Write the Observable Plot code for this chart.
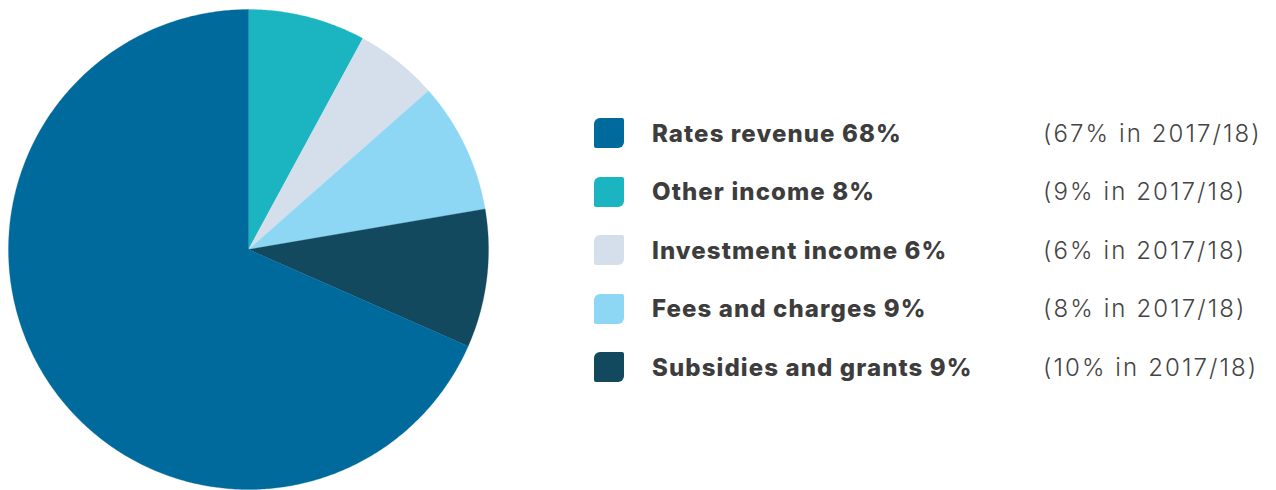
<!DOCTYPE html>
<html>
<head>
<meta charset="utf-8">
<script src="https://cdn.jsdelivr.net/npm/d3@7"></script>
<script src="https://cdn.jsdelivr.net/npm/@observablehq/plot@0.6"></script>
<style>
  html, body { margin: 0; padding: 0; background: #fff; }
  #wrap { position: relative; width: 1276px; height: 490px; display: flex; }
  #legend { position: absolute; left: 594px; top: 103.75px; font-family: "Inter", sans-serif; color: #3d3d3d; }
  .row { height: 58.5px; display: flex; align-items: center; position: relative; width: 682px; }
  .sw { width: 30px; height: 30px; border-radius: 6px 2px 6px 2px; flex: none; }
  .lab { position: absolute; left: 58px; font-weight: 800; font-size: 24px; letter-spacing: 1.1px; white-space: nowrap; }
  .prev { position: absolute; left: 449px; font-weight: 300; font-size: 24px; letter-spacing: 2.1px; white-space: nowrap; color: #444; }
</style>
</head>
<body>
<div id="wrap"><div id="chart"></div><div id="legend"></div></div>
<script>
// Legend order
const categories = ["Rates revenue", "Other income", "Investment income", "Fees and charges", "Subsidies and grants"];
const shares = [68, 8, 6, 9, 9];            // labelled percentages
const sliceShares = [68.4, 7.9, 5.6, 8.8, 9.3]; // slice sizes as drawn in the picture
const previousLabels = ["(67% in 2017/18)", "(9% in 2017/18)", "(6% in 2017/18)", "(8% in 2017/18)", "(10% in 2017/18)"];
const colors = ["#006a9c", "#1ab5c1", "#d5dfeb", "#8dd7f5", "#12495f"];
// Pie order, clockwise from 12 o'clock
const pieOrder = ["Other income", "Investment income", "Fees and charges", "Subsidies and grants", "Rates revenue"];

const data = categories.map((c, i) => ({name: c, value: sliceShares[i]}));
const ordered = pieOrder.map(n => data.find(d => d.name === n));
const arcs = d3.pie().sort(null).value(d => d.value)(ordered);

// build slice outlines (unit circle) from the pie angles
const pts = [];
for (const a of arcs) {
  const n = Math.max(2, Math.ceil((a.endAngle - a.startAngle) / (Math.PI / 360)));
  pts.push({name: a.data.name, x: 0, y: 0});
  for (let k = 0; k <= n; k++) {
    const t = a.startAngle + (a.endAngle - a.startAngle) * k / n;
    pts.push({name: a.data.name, x: Math.sin(t), y: Math.cos(t)});
  }
  pts.push({name: a.data.name, x: 0, y: 0});
}

const W = 496, H = 490, R = 240, cx = 248, cy = 249;
const chart = Plot.plot({
  width: W, height: H,
  margin: 0,
  x: {domain: [-cx / R, (W - cx) / R], axis: null},
  y: {domain: [-(H - cy) / R, cy / R], axis: null},
  color: {domain: categories, range: colors},
  marks: [
    Plot.line(pts, {x: "x", y: "y", z: "name", fill: "name", stroke: "name", strokeWidth: 0.3, curve: "linear"})
  ]
});
document.getElementById("chart").appendChild(chart);

const legend = d3.select("#legend");
categories.forEach((c, i) => {
  const row = legend.append("div").attr("class", "row");
  row.append("div").attr("class", "sw").style("background", colors[i]);
  row.append("div").attr("class", "lab").text(`${c} ${shares[i]}%`);
  row.append("div").attr("class", "prev").text(previousLabels[i]);
});
</script>
</body>
</html>
